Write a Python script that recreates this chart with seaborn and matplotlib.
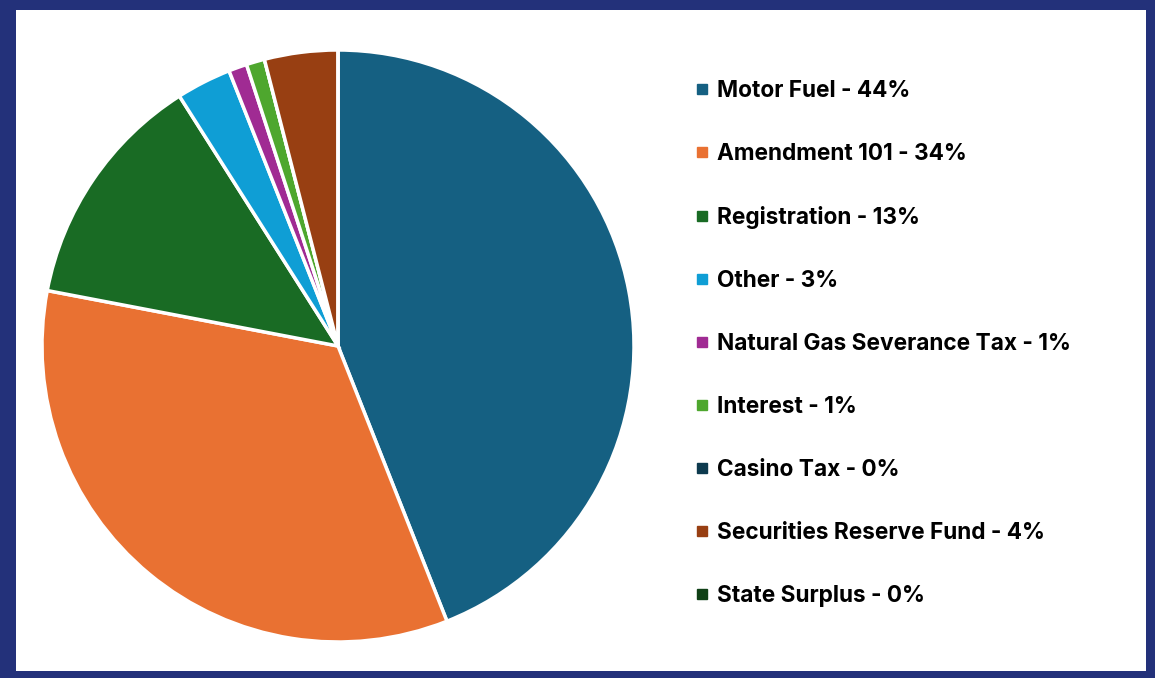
import matplotlib
matplotlib.use("Agg")
import matplotlib.pyplot as plt
from matplotlib.patches import Rectangle
from matplotlib.lines import Line2D
import seaborn as sns

categories = ["Motor Fuel", "Amendment 101", "Registration", "Other",
              "Natural Gas Severance Tax", "Interest", "Casino Tax",
              "Securities Reserve Fund", "State Surplus"]
values = [44, 34, 13, 3, 1, 1, 0, 4, 0]
colors = ["#156082", "#E97132", "#196B24", "#0F9ED5", "#A02B93",
          "#4EA72E", "#0D3A4E", "#983F12", "#0F4016"]

sns.set_theme(style="white")
plt.rcParams['font.family'] = ['Inter', 'DejaVu Sans']
palette = sns.color_palette(colors)

W, H = 1155, 678
fig = plt.figure(figsize=(W / 100, H / 100), dpi=100)
fig.patch.set_facecolor("#23317A")
fig.add_artist(Rectangle((16 / W, 1 - 671 / H), (1146 - 16) / W, (671 - 10) / H,
                         transform=fig.transFigure, facecolor="white",
                         edgecolor="none", zorder=0))

cx, cy, r = 338, 346, 296
ax = fig.add_axes([(cx - r) / W, (H - cy - r) / H, 2 * r / W, 2 * r / H])
ax.set_facecolor("none")
wedges, _ = ax.pie(values, colors=palette, startangle=90, counterclock=False,
                   wedgeprops=dict(edgecolor="white", linewidth=2.5))
for w in wedges:
    w.set_clip_on(False)
ax.set_xlim(-1, 1)
ax.set_ylim(-1, 1)
ax.set_aspect("equal")
ax.axis("off")

labels = [f"{c} - {v}%" for c, v in zip(categories, values)]
handles = [Line2D([], [], marker="s", linestyle="none", markersize=7,
                  markerfacecolor=col, markeredgecolor=col) for col in colors]
leg = fig.legend(handles, labels, loc="upper left",
                 bbox_to_anchor=(694 / W, 1 - 80 / H),
                 frameon=False, prop=dict(size=16.3, weight="bold"),
                 labelspacing=1.81, handlelength=0.7, handletextpad=0.32,
                 borderaxespad=0, borderpad=0)
for t in leg.get_texts():
    t.set_color("#000000")

fig.savefig("out.png", dpi=100, facecolor=fig.get_facecolor())
